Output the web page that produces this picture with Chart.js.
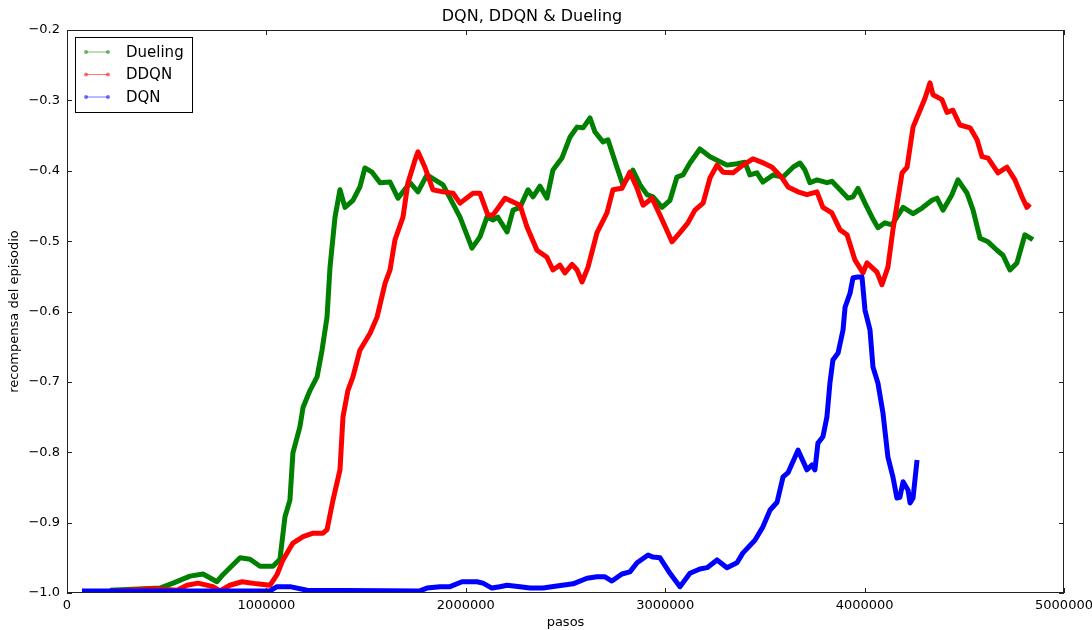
<!DOCTYPE html>
<html>
<head>
<meta charset="utf-8">
<title>DQN, DDQN & Dueling</title>
<script src="https://cdn.jsdelivr.net/npm/chart.js@4.4.0/dist/chart.umd.min.js"></script>
<style>
  html, body { margin: 0; padding: 0; background: #fff; }
  #caixa { width: 1092px; height: 630px; position: relative; }
</style>
</head>
<body>
<div id="caixa"><canvas id="grafico"></canvas></div>
<script>
// eixos
const xTicks = [0, 1000000, 2000000, 3000000, 4000000, 5000000];
const yTicks = [-1.0, -0.9, -0.8, -0.7, -0.6, -0.5, -0.4, -0.3, -0.2];

// Dueling (verde)
const duelingX = [216000, 466000, 532000, 617000, 682000, 752000, 782000, 868000, 918000, 968000,
  1033000, 1068000, 1093000, 1118000, 1133000, 1168000, 1184000, 1219000, 1254000, 1279000,
  1304000, 1319000, 1344000, 1369000, 1394000, 1434000, 1469000, 1494000, 1530000, 1570000,
  1620000, 1660000, 1720000, 1760000, 1805000, 1886000, 1971000, 2031000, 2071000, 2106000,
  2136000, 2161000, 2207000, 2237000, 2272000, 2312000, 2337000, 2372000, 2407000, 2437000,
  2482000, 2523000, 2558000, 2588000, 2623000, 2648000, 2688000, 2713000, 2758000, 2788000,
  2838000, 2874000, 2909000, 2939000, 2984000, 3024000, 3059000, 3089000, 3124000, 3174000,
  3225000, 3260000, 3310000, 3360000, 3400000, 3425000, 3460000, 3490000, 3541000, 3591000,
  3641000, 3676000, 3701000, 3726000, 3761000, 3811000, 3836000, 3877000, 3917000, 3942000,
  3967000, 4002000, 4037000, 4067000, 4102000, 4137000, 4193000, 4243000, 4288000, 4338000,
  4363000, 4393000, 4438000, 4468000, 4514000, 4544000, 4579000, 4619000, 4664000, 4694000,
  4729000, 4764000, 4804000, 4844000];
const duelingY = [-0.996, -0.993, -0.986, -0.976, -0.973, -0.984, -0.974, -0.950, -0.952, -0.962,
  -0.962, -0.952, -0.892, -0.868, -0.801, -0.764, -0.736, -0.712, -0.693, -0.655,
  -0.608, -0.537, -0.466, -0.427, -0.452, -0.442, -0.423, -0.396, -0.402, -0.417,
  -0.416, -0.439, -0.417, -0.430, -0.406, -0.420, -0.466, -0.510, -0.494, -0.466,
  -0.470, -0.466, -0.487, -0.456, -0.452, -0.427, -0.437, -0.422, -0.439, -0.399,
  -0.382, -0.352, -0.338, -0.339, -0.325, -0.345, -0.359, -0.356, -0.395, -0.420,
  -0.399, -0.420, -0.434, -0.437, -0.452, -0.442, -0.409, -0.406, -0.389, -0.369,
  -0.380, -0.385, -0.392, -0.390, -0.388, -0.406, -0.403, -0.416, -0.406, -0.409,
  -0.395, -0.389, -0.399, -0.417, -0.413, -0.417, -0.415, -0.427, -0.439, -0.437,
  -0.425, -0.446, -0.466, -0.481, -0.474, -0.477, -0.452, -0.461, -0.453, -0.442,
  -0.439, -0.456, -0.434, -0.413, -0.432, -0.456, -0.496, -0.501, -0.513, -0.520,
  -0.541, -0.531, -0.491, -0.498];

// DDQN (vermelho)
const ddqnX = [241000, 431000, 552000, 602000, 657000, 732000, 767000, 817000, 878000, 953000,
  1018000, 1053000, 1083000, 1133000, 1184000, 1234000, 1284000, 1304000, 1334000, 1369000,
  1384000, 1409000, 1434000, 1469000, 1520000, 1555000, 1595000, 1620000, 1645000, 1685000,
  1710000, 1745000, 1760000, 1795000, 1835000, 1886000, 1936000, 1971000, 2036000, 2071000,
  2111000, 2136000, 2197000, 2272000, 2307000, 2357000, 2407000, 2437000, 2472000, 2497000,
  2533000, 2558000, 2583000, 2613000, 2658000, 2708000, 2738000, 2783000, 2823000, 2859000,
  2889000, 2934000, 2974000, 3034000, 3074000, 3114000, 3149000, 3190000, 3225000, 3260000,
  3290000, 3340000, 3390000, 3440000, 3485000, 3536000, 3586000, 3616000, 3666000, 3711000,
  3761000, 3791000, 3836000, 3877000, 3912000, 3952000, 3992000, 4012000, 4062000, 4087000,
  4117000, 4142000, 4188000, 4213000, 4243000, 4278000, 4303000, 4328000, 4343000, 4388000,
  4413000, 4443000, 4478000, 4529000, 4564000, 4589000, 4619000, 4669000, 4714000, 4754000,
  4789000, 4814000, 4829000];
const ddqnY = [-0.997, -0.994, -0.996, -0.989, -0.986, -0.991, -0.997, -0.989, -0.984, -0.987,
  -0.989, -0.974, -0.953, -0.929, -0.920, -0.915, -0.915, -0.910, -0.868, -0.825,
  -0.750, -0.712, -0.693, -0.655, -0.631, -0.608, -0.560, -0.541, -0.498, -0.466,
  -0.417, -0.385, -0.373, -0.395, -0.427, -0.430, -0.432, -0.446, -0.432, -0.432,
  -0.463, -0.463, -0.439, -0.449, -0.480, -0.513, -0.523, -0.541, -0.534, -0.545,
  -0.533, -0.541, -0.558, -0.537, -0.488, -0.460, -0.427, -0.425, -0.402, -0.425,
  -0.449, -0.439, -0.463, -0.501, -0.488, -0.474, -0.456, -0.446, -0.410, -0.392,
  -0.402, -0.403, -0.392, -0.383, -0.388, -0.395, -0.410, -0.423, -0.430, -0.434,
  -0.430, -0.452, -0.460, -0.484, -0.491, -0.527, -0.545, -0.531, -0.544, -0.562,
  -0.537, -0.484, -0.403, -0.395, -0.338, -0.314, -0.297, -0.275, -0.292, -0.299,
  -0.317, -0.314, -0.335, -0.339, -0.356, -0.380, -0.382, -0.403, -0.395, -0.413,
  -0.437, -0.452, -0.447];

// DQN (azul)
const dqnX = [75000, 1018000, 1053000, 1118000, 1204000, 1770000, 1805000, 1871000, 1921000, 1981000,
  2056000, 2086000, 2131000, 2171000, 2207000, 2272000, 2322000, 2387000, 2457000, 2538000,
  2608000, 2658000, 2698000, 2733000, 2783000, 2823000, 2859000, 2914000, 2939000, 2974000,
  3024000, 3074000, 3124000, 3174000, 3210000, 3260000, 3310000, 3360000, 3390000, 3450000,
  3490000, 3526000, 3561000, 3591000, 3616000, 3666000, 3711000, 3736000, 3751000, 3766000,
  3791000, 3811000, 3826000, 3841000, 3867000, 3892000, 3902000, 3927000, 3942000, 3967000,
  3987000, 4002000, 4027000, 4042000, 4067000, 4092000, 4117000, 4142000, 4162000, 4177000,
  4193000, 4218000, 4228000, 4243000, 4263000];
const dqnY = [-0.997, -0.997, -0.991, -0.991, -0.996, -0.997, -0.993, -0.991, -0.991, -0.984,
  -0.984, -0.986, -0.993, -0.991, -0.989, -0.991, -0.993, -0.993, -0.990, -0.987,
  -0.979, -0.977, -0.977, -0.983, -0.973, -0.970, -0.957, -0.946, -0.949, -0.950,
  -0.972, -0.991, -0.972, -0.966, -0.964, -0.953, -0.964, -0.957, -0.943, -0.925,
  -0.906, -0.882, -0.871, -0.835, -0.829, -0.797, -0.825, -0.818, -0.825, -0.787,
  -0.778, -0.750, -0.702, -0.669, -0.659, -0.626, -0.594, -0.574, -0.552, -0.551,
  -0.551, -0.598, -0.626, -0.679, -0.702, -0.744, -0.807, -0.835, -0.865, -0.864,
  -0.842, -0.854, -0.872, -0.865, -0.811];

// legenda
const legendaNomes = ["Dueling", "DDQN", "DQN"];
const legendaCores = ["rgba(0, 128, 0, 0.55)", "rgba(255, 0, 0, 0.55)", "rgba(0, 0, 255, 0.55)"];

function pontos(xs, ys) {
  return xs.map((x, i) => ({ x: x, y: ys[i] }));
}

function menos(v) {
  return v.toFixed(1).replace("-", "\u2212");
}

// moldura, ticks para dentro e legenda estilo matplotlib
const estiloMatplotlib = {
  id: "estiloMatplotlib",
  afterDraw(chart) {
    const ctx = chart.ctx;
    const a = chart.chartArea;
    const sx = chart.scales.x;
    const sy = chart.scales.y;
    ctx.save();
    ctx.strokeStyle = "#222";
    ctx.lineWidth = 1;
    ctx.strokeRect(a.left + 0.5, a.top + 0.5, a.right - a.left - 1, a.bottom - a.top - 1);

    ctx.beginPath();
    xTicks.forEach((v) => {
      const px = Math.round(sx.getPixelForValue(v)) + 0.5;
      ctx.moveTo(px, a.bottom);
      ctx.lineTo(px, a.bottom - 5);
      ctx.moveTo(px, a.top);
      ctx.lineTo(px, a.top + 5);
    });
    yTicks.forEach((v) => {
      const py = Math.round(sy.getPixelForValue(v)) + 0.5;
      ctx.moveTo(a.left, py);
      ctx.lineTo(a.left + 5, py);
      ctx.moveTo(a.right, py);
      ctx.lineTo(a.right - 5, py);
    });
    ctx.stroke();

    // caixa da legenda
    const bx = a.left + 8, by = a.top + 7, bw = 117, bh = 75;
    ctx.fillStyle = "#fff";
    ctx.fillRect(bx, by, bw, bh);
    ctx.strokeStyle = "#000";
    ctx.strokeRect(bx + 0.5, by + 0.5, bw, bh);
    ctx.font = "15px 'DejaVu Sans'";
    ctx.textBaseline = "middle";
    legendaNomes.forEach((nome, i) => {
      const ly = by + 15 + i * 22.5;
      ctx.strokeStyle = legendaCores[i];
      ctx.fillStyle = legendaCores[i];
      ctx.lineWidth = 1;
      ctx.beginPath();
      ctx.moveTo(bx + 11, ly);
      ctx.lineTo(bx + 33, ly);
      ctx.stroke();
      [bx + 11, bx + 33].forEach((cx) => {
        ctx.beginPath();
        ctx.arc(cx, ly, 2, 0, Math.PI * 2);
        ctx.fill();
      });
      ctx.fillStyle = "#000";
      ctx.fillText(nome, bx + 51, ly + 1);
    });
    ctx.restore();
  },
};

Chart.defaults.font.family = "'DejaVu Sans', sans-serif";
Chart.defaults.font.size = 13;
Chart.defaults.color = "#000";

const ctx = document.getElementById("grafico").getContext("2d");
const meuGrafico = new Chart(ctx, {
  type: "scatter",
  data: {
    datasets: [
      {
        label: "Dueling",
        data: pontos(duelingX, duelingY),
        borderColor: "#008000",
        order: 2,
      },
      {
        label: "DDQN",
        data: pontos(ddqnX, ddqnY),
        borderColor: "#ff0000",
        order: 1,
      },
      {
        label: "DQN",
        data: pontos(dqnX, dqnY),
        borderColor: "#0000ff",
        order: 0,
      },
    ],
  },
  options: {
    responsive: true,
    maintainAspectRatio: false,
    animation: false,
    showLine: true,
    elements: {
      point: { radius: 0, hoverRadius: 0 },
      line: { borderWidth: 5, tension: 0, borderJoinStyle: "round", borderCapStyle: "butt", fill: false },
    },
    layout: { padding: { top: 0, right: 28, bottom: 0, left: 0 } },
    plugins: {
      legend: { display: false },
      tooltip: { enabled: false },
      title: {
        display: true,
        text: "DQN, DDQN & Dueling",
        font: { size: 16, weight: "normal" },
        color: "#000",
        padding: { top: 7, bottom: 3.8 },
      },
    },
    scales: {
      x: {
        type: "linear",
        min: 0,
        max: 5000000,
        grid: { display: false, drawTicks: false },
        border: { display: false },
        afterBuildTicks: (scale) => {
          scale.ticks = xTicks.map((v) => ({ value: v }));
        },
        ticks: {
          padding: 5,
          maxRotation: 0,
          autoSkip: false,
          callback: (v) => String(v),
        },
        title: { display: true, text: "pasos", padding: { top: 0, bottom: 0 } },
        afterFit: (scale) => {
          scale.height = 37;
          scale.paddingLeft = 0;
          scale.paddingRight = 0;
        },
      },
      y: {
        type: "linear",
        min: -1.0,
        max: -0.2,
        grid: { display: false, drawTicks: false },
        border: { display: false },
        afterBuildTicks: (scale) => {
          scale.ticks = yTicks.map((v) => ({ value: v }));
        },
        ticks: {
          padding: 7,
          autoSkip: false,
          callback: (v) => menos(v),
        },
        title: { display: true, text: "recompensa del episodio", padding: { top: 7, bottom: 0 } },
        afterFit: (scale) => {
          scale.width = 67;
          scale.paddingTop = 0;
          scale.paddingBottom = 0;
        },
      },
    },
  },
  plugins: [estiloMatplotlib],
});
</script>
</body>
</html>
